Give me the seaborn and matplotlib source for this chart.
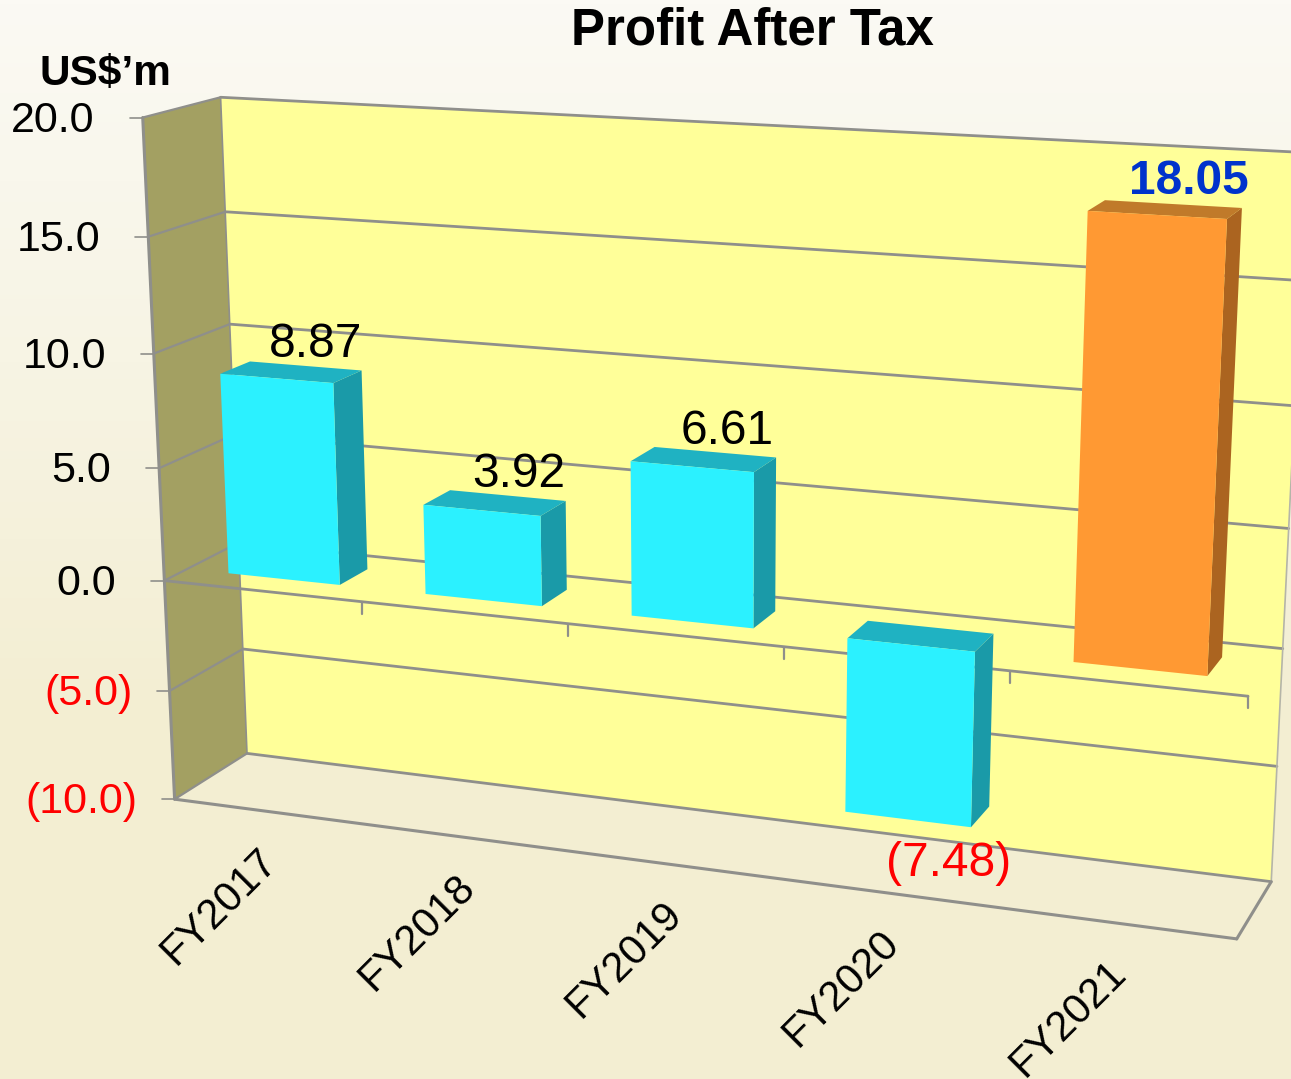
import numpy as np
import pandas as pd
import matplotlib
matplotlib.use("Agg")
import matplotlib.pyplot as plt
import seaborn as sns
from matplotlib.transforms import Transform

sns.set_theme(style="white")
plt.rcParams['font.family'] = ['Liberation Sans', 'DejaVu Sans']

# chart data
years = ["FY2017", "FY2018", "FY2019", "FY2020", "FY2021"]
profit = [8.87, 3.92, 6.61, -7.48, 18.05]
profit_labels = ["8.87", "3.92", "6.61", "(7.48)", "18.05"]
y_ticks = [20, 15, 10, 5, 0, -5, -10]
y_tick_labels = ["20.0", "15.0", "10.0", "5.0", "0.0", "(5.0)", "(10.0)"]
front_colors = ["#2bf1ff", "#2bf1ff", "#2bf1ff", "#2bf1ff", "#ff9933"]
side_colors = ["#1a9aa8", "#1a9aa8", "#1a9aa8", "#1a9aa8", "#ab6420"]
top_colors = ["#1fb2c2", "#1fb2c2", "#1fb2c2", "#1fb2c2", "#c07a2a"]

# camera calibration: (category x, value, depth) -> picture pixels
calib_world = np.array([
    [-.5, 20, 0], [-.5, 15, 0], [-.5, 10, 0], [-.5, 5, 0], [-.5, 0, 0], [-.5, -10, 0],
    [-.5, 20, 1], [-.5, 15, 1], [-.5, 10, 1], [-.5, 5, 1], [-.5, -5, 1], [-.5, -10, 1],
    [4.5, -10, 0], [4.5, 0, 0], [.5, 0, 0], [1.5, 0, 0], [2.5, 0, 0], [3.5, 0, 0],
    [4.5, -10, 1], [4.5, -5, 1], [4.5, 0, 1], [4.5, 5, 1],
    [4.5, 10, 1], [4.5, 15, 1], [4.5, 20, 1]], dtype=float)
calib_pixel = np.array([
    [143, 118], [148, 236], [155, 353], [158, 467], [165, 580], [175, 798],
    [221, 97], [225, 211], [229, 323], [234, 438], [243, 650], [247, 753],
    [1237, 940], [1248, 695], [361, 602], [568, 625], [783, 648], [1010, 672],
    [1271, 881], [1277, 766], [1283, 648], [1289, 527],
    [1295, 405], [1301, 281], [1307, 154]], dtype=float)


def fit_camera(world, pixel):
    rows = []
    for (x, y, z), (u, v) in zip(world, pixel):
        rows.append([x, y, z, 1, 0, 0, 0, 0, -u * x, -u * y, -u * z, -u])
        rows.append([0, 0, 0, 0, x, y, z, 1, -v * x, -v * y, -v * z, -v])
    return np.linalg.svd(np.array(rows))[2][-1].reshape(3, 4)


camera = fit_camera(calib_world, calib_pixel)


def proj(x, y, z):
    x, y, z = np.broadcast_arrays(np.asarray(x, float), np.asarray(y, float), np.asarray(z, float))
    p = camera @ np.vstack([x.ravel(), y.ravel(), z.ravel(), np.ones(x.size)])
    return p[0] / p[2], p[1] / p[2]


class Perspective(Transform):
    input_dims = 2
    output_dims = 2
    is_separable = False
    has_inverse = False

    def __init__(self, plane_z):
        super().__init__()
        self.plane_z = plane_z

    def transform_non_affine(self, values):
        values = np.asarray(values)
        return np.column_stack(proj(values[:, 0], values[:, 1], self.plane_z))


X0, X1 = -.5, 4.5
Z0, Z1 = .3, .7
BAR_W = .57
GRID = "#8f8f8b"
WALL = "#ffff99"
SIDE_WALL = "#a3a062"
FLOOR = "#f3eed2"

fig = plt.figure(figsize=(12.91, 10.79), dpi=100)
ax = fig.add_axes([0, 0, 1, 1])

# front faces of bars come from seaborn
df = pd.DataFrame({"year": years, "profit": profit})
sns.barplot(data=df, x="year", y="profit", hue="year", palette=front_colors, width=BAR_W,
            saturation=1, legend=False, linewidth=0, ax=ax)
bars = list(ax.patches)

# backdrop
gradient = np.linspace(0, 1, 256)[:, None]
cmap = matplotlib.colors.LinearSegmentedColormap.from_list("bg", ["#fbfaf4", "#f7f4e4", FLOOR, FLOOR])
ax.imshow(gradient, extent=(0, 1291, 1079, 0), aspect="auto", cmap=cmap, zorder=0)

# walls
ax.fill(*proj([X0, X1, X1, X0], [20, 20, -10, -10], 1), color=WALL, lw=0, zorder=1)
ax.fill(*proj(X0, [20, 20, -10, -10], [0, 1, 1, 0]), color=SIDE_WALL, lw=0, zorder=1)

for v in y_ticks:
    ax.plot(*proj([X0, X1], v, 1), color=GRID, lw=2.0, zorder=2)
    ax.plot(*proj(X0, v, [0, 1]), color=GRID, lw=1.6, zorder=2)
    px, py = proj(X0, v, 0)
    ax.plot([px[0] - 13, px[0]], [py[0], py[0]], color=GRID, lw=1.2, zorder=2)

# outline of the box and the floor
ax.plot(*proj(X0, [20, -10], 0), color=GRID, lw=2.2, zorder=2)
ax.plot(*proj(X0, [20, -10], 1), color=GRID, lw=1.2, zorder=2)
ax.plot(*proj(X1, [20, -10], 1), color="#b5b5a8", lw=1.2, zorder=2)
ax.plot(*proj([X0, X1], -10, 0), color=GRID, lw=2.2, zorder=2)
ax.plot(*proj(X1, -10, [0, 1]), color=GRID, lw=2.2, zorder=2)

# zero line along the front with its category ticks
ax.plot(*proj([X0, X1], 0, 0), color=GRID, lw=2.0, zorder=2)
for i in range(len(years)):
    px, py = proj(i + .5, 0, 0)
    ax.plot([px[0], px[0]], [py[0], py[0] + 12], color=GRID, lw=1.6, zorder=2)

# side and top faces worked out from the seaborn bars
for bar, side, top in zip(bars, side_colors, top_colors):
    left, right = bar.get_x(), bar.get_x() + bar.get_width()
    low, high = sorted([bar.get_y(), bar.get_y() + bar.get_height()])
    ax.fill(*proj(right, [high, high, low, low], [Z0, Z1, Z1, Z0]), color=side, lw=0, zorder=3)
    ax.fill(*proj([left, right, right, left], high, [Z0, Z0, Z1, Z1]), color=top, lw=0, zorder=3)
    bar.set_transform(Perspective(Z0) + ax.transData)
    bar.set_zorder(4)

# value labels
for i, (val, lab) in enumerate(zip(profit, profit_labels)):
    if val >= 0:
        px, py = proj(i, val, (Z0 + Z1) / 2)
        px, py = px[0] + 24, py[0] - 28
    else:
        px, py = proj(i, val, Z0)
        px, py = px[0] + 41, py[0] + 44
    color, weight = "black", "normal"
    if val < 0:
        color = "#ff0000"
    if i == len(years) - 1:
        color, weight = "#0033cc", "bold"
    ax.text(px, py, lab, color=color, fontsize=34.5, fontweight=weight, ha="center", va="center", zorder=5)

# value axis labels
for v, lab in zip(y_ticks, y_tick_labels):
    px, py = proj(X0, v, 0)
    off = 37 if v < 0 else 48
    ax.text(px[0] - off, py[0] + 3, lab, color="#ff0000" if v < 0 else "black", fontsize=31,
            ha="right", va="center", zorder=5)

# category labels
for i, year in enumerate(years):
    px, py = proj(i, -10, 0)
    ax.text(px[0] - 51, py[0] + 95, year, color="black", fontsize=30, rotation=45,
            ha="center", va="center", rotation_mode="anchor", zorder=5)

ax.text(752, 31, "Profit After Tax", color="black", fontsize=36.7, fontweight="bold", ha="center", va="center")
ax.text(105, 74, "US$\u2019m", color="black", fontsize=30.5, fontweight="bold", ha="center", va="center")

ax.set_xlim(0, 1291)
ax.set_ylim(1079, 0)
ax.set_axis_off()

plt.savefig("out.png", dpi=100)
